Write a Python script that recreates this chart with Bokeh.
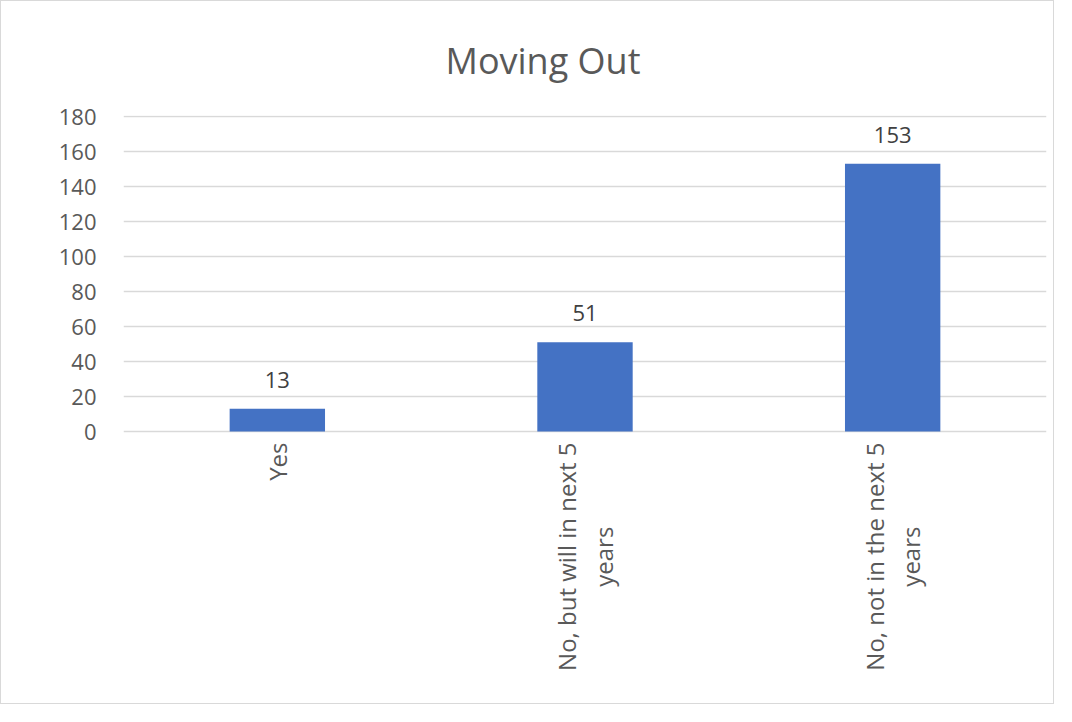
import math
from bokeh.plotting import figure
from bokeh.models import FactorRange, Range1d, FixedTicker, ColumnDataSource
from bokeh.embed import file_html
from bokeh.resources import INLINE

# ---- data ----
categories = ["Yes", "No, but will in next 5\nyears", "No, not in the next 5\nyears"]
values = [13, 51, 153]
labels = [str(v) for v in values]
y_ticks = [0, 20, 40, 60, 80, 100, 120, 140, 160, 180]
y_max = 180.6
title_text = "Moving Out"

FONT = "Open Sans"
W, H = 1054, 704
left, right, top, bottom = 122, 9, 114, 4
value_area_px = 316  # pixels used by the 0..y_max value span
frame_h = H - top - bottom
y_start = y_max - frame_h * y_max / value_area_px

src = ColumnDataSource(dict(cat=categories, val=values, lab=labels,
                            zero=[0] * len(categories)))

p = figure(
    width=W, height=H,
    x_range=FactorRange(*categories, range_padding=0),
    y_range=Range1d(y_start, y_max),
    output_backend="svg", toolbar_location=None,
    min_border_left=left, min_border_right=right,
    min_border_top=top, min_border_bottom=bottom,
)
p.styles = {"border": "1px solid #d9d9d9"}
p.outline_line_color = None
p.background_fill_color = "white"
p.border_fill_color = "white"

p.title.text = title_text
p.title.text_font = FONT
p.title.text_font_size = "36px"
p.title.text_font_style = "normal"
p.title.text_color = "#595959"
p.title.align = "left"
p.title.offset = 322
p.title.standoff = 62

p.vbar(x="cat", top="val", width=0.31, source=src,
       fill_color="#4472C4", line_color=None)

p.text(x="cat", y="val", text="lab", source=src,
       text_align="center", text_baseline="alphabetic", y_offset=-29,
       text_font={"value": FONT}, text_font_size="22px", text_color="#404040")

# category labels (rotated, lines centered)
p.text(x="cat", y="zero", text="cat", source=src,
       angle=math.pi / 2, anchor="center_right", text_align="center",
       y_offset=11, text_line_height=1.1,
       text_font={"value": FONT}, text_font_size="24px", text_color="#595959")

# grid (the 0 gridline acts as the category axis line)
p.xgrid.grid_line_color = None
p.ygrid.grid_line_color = "#d9d9d9"
p.ygrid.grid_line_width = 1.5
p.yaxis.ticker = FixedTicker(ticks=y_ticks)

# y axis
p.yaxis.axis_line_color = None
p.yaxis.major_tick_line_color = None
p.yaxis.minor_tick_line_color = None
p.yaxis.major_label_standoff = 21
p.yaxis.major_label_text_font = FONT
p.yaxis.major_label_text_font_size = "22px"
p.yaxis.major_label_text_color = "#595959"

# x axis drawn through the text glyphs above
p.xaxis.visible = False

open("out.html", "w").write(file_html(p, INLINE))
